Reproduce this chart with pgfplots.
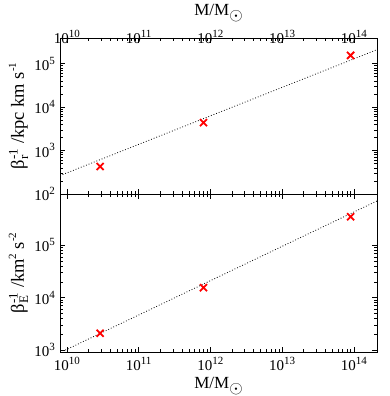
\documentclass[border=0pt]{standalone}
\usepackage{pgfplots}
\pgfplotsset{compat=1.18}
\usepackage{fontspec}
\setmainfont{Liberation Serif}
\newcommand{\sx}[1]{\raisebox{0.42em}{\fontsize{11}{11}\selectfont #1}}
\pgfplotsset{
  common/.style={
    scale only axis, width=317pt,
    xmin=8e9, xmax=2.1e14,
    xtick={1e10,1e11,1e12,1e13,1e14},
    xticklabels={10\sx{10},10\sx{11},10\sx{12},10\sx{13},10\sx{14}},
    tick align=inside,
    major tick length=5pt, minor tick length=3pt,
    tick style={black, line width=0.6pt},
    axis line style={line width=0.8pt},
    tick label style={font=\fontsize{15}{17}\selectfont},
    label style={font=\fontsize{17}{19}\selectfont},
  },
}
\begin{document}
\fontsize{15}{17}\selectfont
\begin{tikzpicture}[x=1pt,y=1pt]
\path[use as bounding box] (0,0) rectangle (390,396);
\begin{loglogaxis}[common, anchor=south west, at={(60pt,202pt)}, height=156pt,
  ymin=100, ymax=3.9e5,
  ytick={1e2,1e3,1e4,1e5},
  yticklabels={10\sx{2},10\sx{3},10\sx{4},10\sx{5}},
  xticklabel pos=top,
  xticklabel style={yshift=-11pt},
  xlabel={M/M\raisebox{-0.3em}{$\odot$}},
  xlabel style={at={(axis description cs:0.5,1)}, anchor=south, yshift=11pt},
  ylabel={β$^{\hbox{\fontsize{13}{13}\selectfont -1}}_{\hbox{\fontsize{13}{13}\selectfont r}}$ /kpc km s\sx{-1}},
  ylabel style={yshift=-4pt, font=\fontsize{18.5}{20}\selectfont},
]
\addplot[black, dotted, line width=0.8pt] coordinates {(8e9,265) (2.1e14,2.1e5)};
\addplot[only marks, mark=x, mark size=5pt, red, line width=1.8pt] coordinates {
  (2.9e10,430) (8.0e11,4400) (9.0e13,1.55e5)};
\end{loglogaxis}
\begin{loglogaxis}[common, anchor=south west, at={(60pt,44pt)}, height=158pt,
  ymin=920, ymax=9.5e5,
  ytick={1e3,1e4,1e5},
  yticklabels={10\sx{3},10\sx{4},10\sx{5}},
  xlabel={M/M\raisebox{-0.3em}{$\odot$}},
  ylabel={β$^{\hbox{\fontsize{13}{13}\selectfont -1}}_{\hbox{\fontsize{13}{13}\selectfont E}}$ /km\sx{2} s\sx{-2}},
  ylabel style={yshift=-4pt, font=\fontsize{18.5}{20}\selectfont},
  xlabel style={yshift=4pt},
]
\addplot[black, dotted, line width=0.8pt] coordinates {(9.5e9,1.0e3) (2.1e14,7e5)};
\addplot[only marks, mark=x, mark size=5pt, red, line width=1.8pt] coordinates {
  (2.9e10,2100) (8.0e11,1.55e4) (9.0e13,3.5e5)};
\end{loglogaxis}
\end{tikzpicture}
\end{document}
